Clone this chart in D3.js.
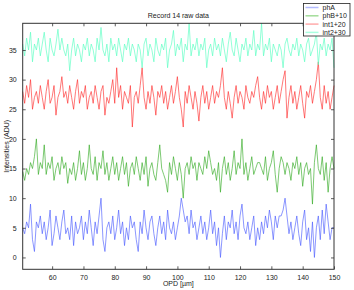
<!DOCTYPE html>
<html><head><meta charset="utf-8">
<script src="https://cdn.jsdelivr.net/npm/d3@7"></script>
<style>body{margin:0;background:#fff}svg{display:block}</style>
</head><body>
<svg id="c" width="354" height="290"></svg>
<script>
const opdStart = 50.6, opdEnd = 150;
const xTicks = [60,70,80,90,100,110,120,130,140,150];
const yTicks = [0,5,10,15,20,25,30,35];
const seriesNames = ["phA","phB+10","int1+20","int2+30"];
const phA = [
5,4,6,5,9,3,1,6,5,7, 4,6,3,5,8,2,4,7,5,3, 6,8,4,5,3,7,2,6,4,5, 7,3,6,4,8,5,2,6,4,7,
10,3,1,5,6,4,7,3,5,8, 4,6,2,5,3,7,5,6,3,1, 6,4,8,5,3,6,7,4,2,5, 7,4,6,3,8,5,4,6,3,5,
7,10,8,6,7,4,8,5,6,3, 5,7,4,6,3,5,8,4,6,2, 5,0,4,7,3,6,5,8,4,6, 3,7,9,5,4,6,3,5,7,2,
5,3,6,4,7,5,8,6,3,7, 5,7,7,8,10,7,4,6,3,5, 7,4,2,6,8,3,5,1,6,0, 5,7,3,8,4,9,6,3,5,5];
const phB10 = [
14.5,13,15,14,16,15,17,20,14,16, 15,19,14,16,15,17,13,15,16,14, 17,15,16,12.5,15,14,16,13,15,18, 14,16,13,15,19,15,14,17,13,16,
15,18,14,16,13,15,17,14,16,13, 15,17,14,16,12,15,16,14,17,15, 13,16,14,17,12,15,16,14,13,16, 19,15,14,13,11,16,14,17,15,13,
16,14,10,15,16,14,17,15,16,13, 16,15,14,17,15,18,16,14,15,13, 16,11,15,17,14,16,13,15,18,14, 16,15,20,14,16,13,15,17,14,15,
16,16,15,14,17,13,15,16,18,14, 11,15,17,16,14,16,15,13,16,15, 17,14,16,12,15,16,14,15,9,16, 19,15,14,17,13,16,11,15,17,15];
const int1_20 = [
28,26,29,27,30,25,27,28,26,29, 27,25,28,30,26,27,29,24,27,28, 30.5,27,28,26,29,27,25,28,30,26, 28,27,29,25,27,28,26,29,27,25,
28,29,24,27,26,28,30,26,32,27, 29,25,28,27,26,29,22,27,28,26, 29,32,27,25,28,26,29,27,24,28, 27,29,26,28,25,27,29,26,28,30.5,
27,25,22,28,26,29,27,25,28,26, 23,27,29,26,28,25,27,29,26,28, 27,29,32,27,25,28,26,23.5,27,29, 26,28,27,25,29,27,26,28,27,29,
30.5,27,25,28,26,29,27,28,25,27, 29,26,28,30,31.5,23.5,27,29,26,28, 25,27,29,26,23.5,28,27,29,26,28, 30,33,27,25,29,26,28,25,27,29];
const int2_30 = [
36,34,37,35,38,33,36,35,37,34, 36,38,35,33,37,35,34,36,38.5,35, 37,35,34,36,31.5,35,37,34,36,35, 33,36,35,37,34,36,35,33,37,35,
38.8,35,34,36,33,37,35,36,34,37, 35,33,36,35,37,34,36,35,33,36, 35,32,36,37,34,36,35,33,37,35, 34,36,35,37,32,35,36,38.3,34,36,
35,37,33,36,35,39.5,34,36,35,37, 34,36,35,37,32,35,36,34,37,35, 36,34,37,35,33,36,38,35,34,37, 35,33,36,35,37,34,36,35,38.3,34,
36,35,39.5,34,36,35,37,33,36,35, 34,36,35,32,36,37,35,34,36,35, 37,34,36,35,33,36,37,34,35,36, 38,32.5,36,35,37,34,36,35,37,32];
const colors = ["#4a5cff","#33aa22","#ff2a2a","#55ffc0"];
const legendColors = ["#b3bbff","#a3dd99","#ffaaaa","#aaffe0"];

const n = phA.length;
const opd = d3.range(n).map(i => opdStart + (opdEnd - opdStart) * i / (n - 1));
const series = [phA, phB10, int1_20, int2_30];

const svg = d3.select("#c");
const m = {l:22.7, r:334, t:23.3, b:269.3};
const x = d3.scaleLinear().domain([opdStart, opdEnd]).range([m.l, m.r]);
const y = d3.scaleLinear().domain([-2, 39.5]).range([m.b, m.t]);
const font = "Liberation Sans, Arial, sans-serif";

const line = d3.line().x((d,i)=>x(opd[i])).y(d=>y(d));
series.forEach((s,k)=>{
  svg.append("path").datum(s).attr("d", line)
    .attr("fill","none").attr("stroke", colors[k]).attr("stroke-width",0.75)
    .attr("stroke-opacity",0.85);
});

// axes (inward ticks, mirrored)
const gB = svg.append("g").attr("transform",`translate(0,${m.b})`)
  .call(d3.axisBottom(x).tickValues(xTicks).tickSizeInner(-3).tickSizeOuter(0).tickPadding(6));
const gT = svg.append("g").attr("transform",`translate(0,${m.t})`)
  .call(d3.axisTop(x).tickValues(xTicks).tickSizeInner(-3).tickSizeOuter(0).tickFormat(""));
const gL = svg.append("g").attr("transform",`translate(${m.l},0)`)
  .call(d3.axisLeft(y).tickValues(yTicks).tickSizeInner(-3).tickSizeOuter(0).tickPadding(6));
const gR = svg.append("g").attr("transform",`translate(${m.r},0)`)
  .call(d3.axisRight(y).tickValues(yTicks).tickSizeInner(-3).tickSizeOuter(0).tickFormat(""));
[gB,gT,gL,gR].forEach(g=>{
  g.select(".domain").remove();
  g.selectAll("line").attr("stroke","#333").attr("stroke-width",0.8);
  g.selectAll("text").attr("font-family",font).attr("font-size",7).attr("fill","#222");
});
svg.append("rect").attr("x",m.l).attr("y",m.t).attr("width",m.r-m.l).attr("height",m.b-m.t)
  .attr("fill","none").attr("stroke","#333").attr("stroke-width",1);

svg.append("text").attr("x",(m.l+m.r)/2).attr("y",17.5).attr("text-anchor","middle")
  .attr("font-family",font).attr("font-size",7).attr("fill","#222").text("Record 14 raw data");
svg.append("text").attr("x",(m.l+m.r)/2).attr("y",286).attr("text-anchor","middle")
  .attr("font-family",font).attr("font-size",7).attr("fill","#222").text("OPD [µm]");
svg.append("text").attr("transform",`translate(9,${(m.t+m.b)/2}) rotate(-90)`).attr("text-anchor","middle")
  .attr("font-family",font).attr("font-size",7).attr("fill","#222").text("Intensities (ADU)");

// legend
const lg = svg.append("g");
lg.append("rect").attr("x",303.5).attr("y",3.5).attr("width",46.5).attr("height",32.5)
  .attr("fill","#fff").attr("stroke","#222").attr("stroke-width",0.8);
seriesNames.forEach((nm,k)=>{
  const yy = 7.5 + k*8.3;
  lg.append("line").attr("x1",305.5).attr("x2",318.5).attr("y1",yy).attr("y2",yy)
    .attr("stroke",legendColors[k]).attr("stroke-width",1.5);
  lg.append("text").attr("x",322.5).attr("y",yy+2.5).attr("font-family",font).attr("font-size",7)
    .attr("fill","#222").text(nm);
});
</script>
</body></html>
